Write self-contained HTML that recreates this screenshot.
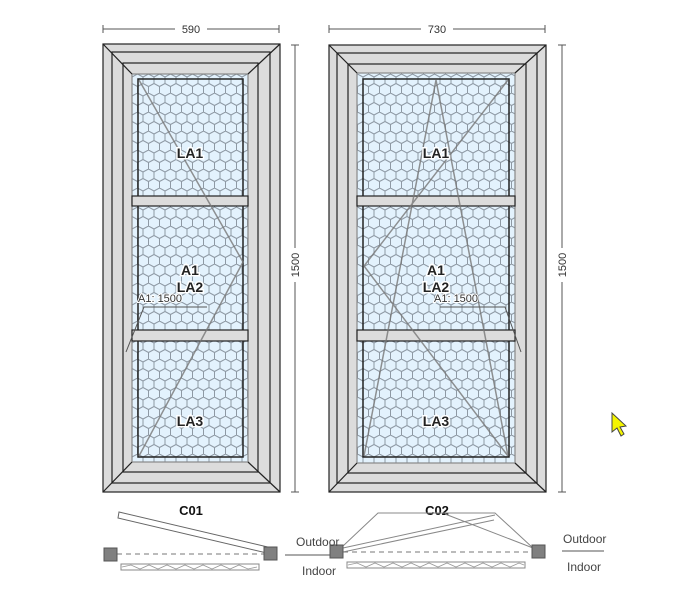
<!DOCTYPE html>
<html><head><meta charset="utf-8"><style>
html,body{margin:0;padding:0;background:#fff;}
svg{display:block;font-family:"Liberation Sans",sans-serif;}
</style></head><body>
<svg width="682" height="615" viewBox="0 0 682 615" xmlns="http://www.w3.org/2000/svg">
<defs>
<pattern id="hex" width="11" height="19" patternUnits="userSpaceOnUse" x="132" y="74">
<rect width="11" height="19" fill="#e3f2fd"/>
<path d="M0,3 L5.5,0 L11,3 M0,3 L0,9.5 L5.5,12.5 L11,9.5 M11,3 L11,9.5 M5.5,12.5 L5.5,19" fill="none" stroke="#8e99a4" stroke-width="1"/>
</pattern>
</defs>

<g stroke="#333" stroke-width="1" fill="none">
<line x1="103" y1="29" x2="279" y2="29" stroke="#555"/>
<line x1="103" y1="25" x2="103" y2="33" stroke="#555"/>
<line x1="279" y1="25" x2="279" y2="33" stroke="#555"/>
<line x1="329" y1="29" x2="545" y2="29" stroke="#555"/>
<line x1="329" y1="25" x2="329" y2="33" stroke="#555"/>
<line x1="545" y1="25" x2="545" y2="33" stroke="#555"/>
<line x1="295" y1="45" x2="295" y2="492" stroke="#555"/>
<line x1="291" y1="45" x2="299" y2="45" stroke="#555"/>
<line x1="291" y1="492" x2="299" y2="492" stroke="#555"/>
<line x1="562" y1="45" x2="562" y2="492" stroke="#555"/>
<line x1="558" y1="45" x2="566" y2="45" stroke="#555"/>
<line x1="558" y1="492" x2="566" y2="492" stroke="#555"/>
</g>
<g font-size="11" fill="#333" text-anchor="middle">
<rect x="175" y="22" width="32" height="14" fill="#fff"/>
<text x="191" y="33">590</text>
<rect x="421" y="22" width="32" height="14" fill="#fff"/>
<text x="437" y="33">730</text>
<rect x="288" y="248" width="14" height="34" fill="#fff"/>
<text x="299" y="265" transform="rotate(-90 299 265)">1500</text>
<rect x="555" y="248" width="14" height="34" fill="#fff"/>
<text x="566" y="265" transform="rotate(-90 566 265)">1500</text>
</g>

<!-- Window C01 -->
<g stroke="#222" stroke-width="1.2">
<rect x="103" y="44" width="177" height="448" fill="#dcdcdc"/>
<rect x="112" y="52" width="158" height="431" fill="#dcdcdc"/>
<rect x="123" y="63" width="135" height="409" fill="#dcdcdc"/>
<rect x="132" y="74" width="116" height="388" fill="url(#hex)" stroke="#888"/>
<rect x="138" y="79" width="105" height="378" fill="none" stroke="#222" stroke-width="1.5"/>
<line x1="103" y1="44" x2="132" y2="74"/><line x1="280" y1="44" x2="248" y2="74"/>
<line x1="103" y1="492" x2="132" y2="462"/><line x1="280" y1="492" x2="248" y2="462"/>
<rect x="132" y="196" width="116" height="10" fill="#dcdcdc"/>
<rect x="132" y="330" width="116" height="11" fill="#dcdcdc"/>
</g>
<g stroke="#777" stroke-width="1.5" fill="none" opacity="0.8">
<polyline points="139,80 243,262 139,456"/>
</g>
<g stroke="#555" stroke-width="1" fill="none">
<polyline points="207,307 144,307 126,352"/>
</g>

<!-- Window C02 -->
<g stroke="#222" stroke-width="1.2">
<rect x="329" y="45" width="217" height="447" fill="#dcdcdc"/>
<rect x="337" y="53" width="200" height="430" fill="#dcdcdc"/>
<rect x="348" y="64" width="178" height="409" fill="#dcdcdc"/>
<rect x="357" y="73" width="158" height="390" fill="url(#hex)" stroke="#888"/>
<rect x="363" y="79" width="146" height="378" fill="none" stroke="#222" stroke-width="1.5"/>
<line x1="329" y1="45" x2="357" y2="73"/><line x1="546" y1="45" x2="515" y2="73"/>
<line x1="329" y1="492" x2="357" y2="463"/><line x1="546" y1="492" x2="515" y2="463"/>
<rect x="357" y="196" width="158" height="10" fill="#dcdcdc"/>
<rect x="357" y="330" width="158" height="11" fill="#dcdcdc"/>
</g>
<g stroke="#777" stroke-width="1.5" fill="none" opacity="0.8">
<polyline points="364,456 436,80 508,456"/>
<polyline points="508,80 364,266 508,456"/>
</g>
<g stroke="#555" stroke-width="1" fill="none">
<polyline points="440,307 505,307 521,352"/>
</g>

<g font-size="14" font-weight="bold" fill="#222" text-anchor="middle" stroke="#fff" stroke-width="3" paint-order="stroke">
<text x="190" y="158">LA1</text>
<text x="190" y="275">A1</text>
<text x="190" y="292">LA2</text>
<text x="190" y="426">LA3</text>
<text x="436" y="158">LA1</text>
<text x="436" y="275">A1</text>
<text x="436" y="292">LA2</text>
<text x="436" y="426">LA3</text>
</g>
<g font-size="11" fill="#333" stroke="#fff" stroke-width="2" paint-order="stroke">
<text x="138" y="302">A1:  1500</text>
<text x="434" y="302">A1:  1500</text>
</g>

<g font-size="13" font-weight="bold" fill="#111" text-anchor="middle">
<text x="191" y="515">C01</text>
<text x="437" y="515">C02</text>
</g>
<polygon points="119,512 272,548 271,554 118,518" fill="#fff" stroke="#666" stroke-width="1"/>
<line x1="117" y1="554" x2="264" y2="554" stroke="#777" stroke-dasharray="5,4"/>
<rect x="121" y="564" width="138" height="6" fill="#fff" stroke="#888"/>
<polyline points="122,567 131,565 140,569 149,565 158,569 167,565 176,569 185,565 194,569 203,565 212,569 221,565 230,569 239,565 248,569 257,567" fill="none" stroke="#999" stroke-width="0.8"/>
<rect x="104" y="548" width="13" height="13" fill="#808080" stroke="#555"/>
<rect x="264" y="547" width="13" height="13" fill="#808080" stroke="#555"/>
<line x1="285" y1="555" x2="330" y2="555" stroke="#777" stroke-width="1.2"/>
<line x1="343" y1="552" x2="532" y2="552" stroke="#777" stroke-dasharray="5,4"/>
<rect x="347" y="562" width="178" height="6" fill="#fff" stroke="#888"/>
<polyline points="348,565 357,563 366,567 375,563 384,567 393,563 402,567 411,563 420,567 429,563 438,567 447,563 456,567 465,563 474,567 483,563 492,567 501,563 510,567 519,563 524,565" fill="none" stroke="#999" stroke-width="0.8"/>
<g stroke="#888" stroke-width="1" fill="none">
<polyline points="343,546 378,513 495,513 533,548"/>
<line x1="343" y1="548" x2="495" y2="515"/>
<line x1="343" y1="552" x2="494" y2="520"/>
<line x1="445" y1="514" x2="533" y2="548"/>
</g>
<rect x="330" y="545" width="13" height="13" fill="#808080" stroke="#555"/>
<rect x="532" y="545" width="13" height="13" fill="#808080" stroke="#555"/>
<line x1="562" y1="551" x2="604" y2="551" stroke="#777" stroke-width="1.2"/>
<g font-size="12" fill="#444">
<text x="296" y="546">Outdoor</text>
<text x="302" y="575">Indoor</text>
<text x="563" y="543">Outdoor</text>
<text x="567" y="571">Indoor</text>
</g>

<polygon points="612,413 612,432 617,428 621,436 624,434 620,427 626,426" fill="#f5f500" stroke="#444" stroke-width="1"/>
</svg>
</body></html>
